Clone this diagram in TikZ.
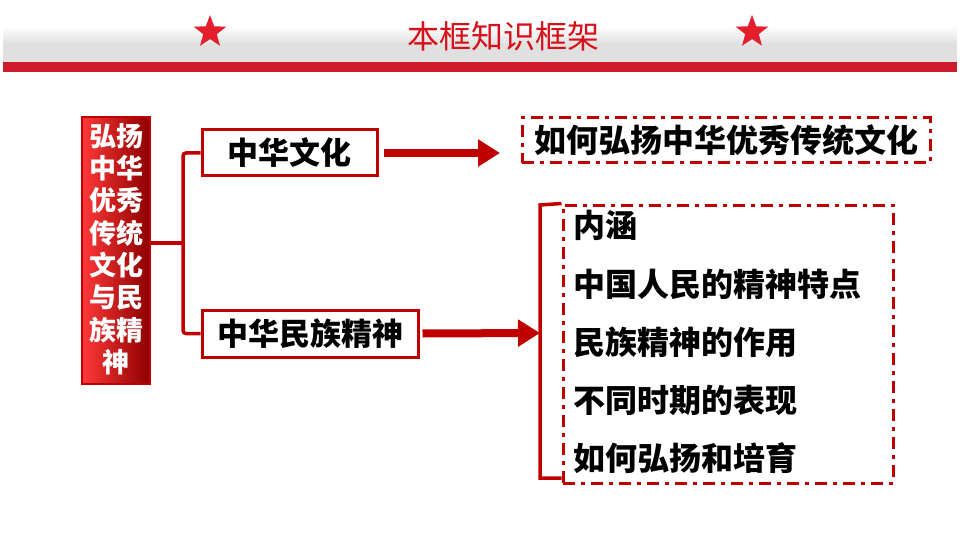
\documentclass[tikz,border=0pt]{standalone}
\usepackage{fontspec}
\newfontfamily\cjk{Noto Sans CJK SC}
\usetikzlibrary{arrows.meta,shapes.geometric}
\definecolor{dred}{RGB}{192,0,0}
\definecolor{tred}{RGB}{214,16,26}
\definecolor{sred}{RGB}{228,30,45}
\tikzset{
  solidbox/.style={draw=dred,line width=3pt,fill=white,inner sep=0pt},
  ddbox/.style={draw=dred,line width=3pt,dash pattern=on 12pt off 6pt on 4pt off 6pt},
  brk/.style={draw=dred,line width=3.5pt,rounded corners=3pt},
  bigarrow/.style={draw=dred,line width=8pt,-{Triangle[length=22pt,width=26pt]}},
  item/.style={anchor=west,inner sep=0pt,font=\cjk\bfseries\fontsize{32}{34}\selectfont},
  mystar/.style={star,star points=5,star point ratio=2.4,fill=sred,minimum size=34pt,inner sep=0pt}
}
\begin{document}
\begin{tikzpicture}[x=1pt,y=-1pt]
\useasboundingbox (0,0) rectangle (960,540);
% header
\shade[top color=white,bottom color=black!12] (3,26) rectangle (957,44);
\fill[black!12] (3,44) rectangle (957,63);
\fill[sred!90!black] (3,62) rectangle (957,72);
\node[font=\cjk\fontsize{32}{34}\selectfont,text=tred] (title) at (503,36) {本框知识框架};
\node[mystar] (s1) at (210,32) {};
\node[mystar] (s2) at (752,32) {};
% left box
\shade[left color=red!78!white,right color=red!55!black,draw=dred,line width=2.5pt] (82,117) rectangle (150,384);
\node[minimum width=68pt,minimum height=267pt,inner sep=0pt] (left) at (116,250.5) {};
\node[text=white,align=center,font=\cjk\bfseries\fontsize{27}{32.3}\selectfont] (ltext) at (116,249) {弘扬\\中华\\优秀\\传统\\文化\\与民\\族精\\神};
% boxes
\node[solidbox,minimum width=175pt,minimum height=46pt,font=\cjk\bfseries\fontsize{31}{32}\selectfont] (wh) at (289.5,153) {中华文化};
\node[solidbox,minimum width=216pt,minimum height=47pt,font=\cjk\bfseries\fontsize{31}{32}\selectfont] (mz) at (310,333.5) {中华民族精神};
\coordinate (brkmid) at (183,243);
\draw[brk] (left.east |- brkmid) -- (brkmid);
\draw[brk] (wh.west) -| (brkmid) |- (mz.west);
% top right
\node[ddbox,minimum width=408pt,minimum height=45pt,font=\cjk\bfseries\fontsize{32}{34}\selectfont] (how) at (726,140.5) {如何弘扬中华优秀传统文化};
\coordinate (a1) at (500,153);
\draw[bigarrow] (wh.east) ++(5,0) -- (a1);
% list box
\node[ddbox,minimum width=330pt,minimum height=278pt] (lst) at (728,344) {};
\coordinate (rb1) at (540,205);
\coordinate (rb2) at (540,478);
\coordinate (rbm) at (540,333);
\draw[brk,rounded corners=0pt] (lst.north west) -- (rb1) -- (rb2) -- (lst.west |- rb2);
\draw[bigarrow] (mz.east) ++(3,0) -- (rbm);
\node[item] (i1) at (573,225) {内涵};
\node[item] (i2) at (573,284) {中国人民的精神特点};
\node[item] (i3) at (573,342) {民族精神的作用};
\node[item] (i4) at (573,400) {不同时期的表现};
\node[item] (i5) at (573,458) {如何弘扬和培育};
\end{tikzpicture}
\end{document}
